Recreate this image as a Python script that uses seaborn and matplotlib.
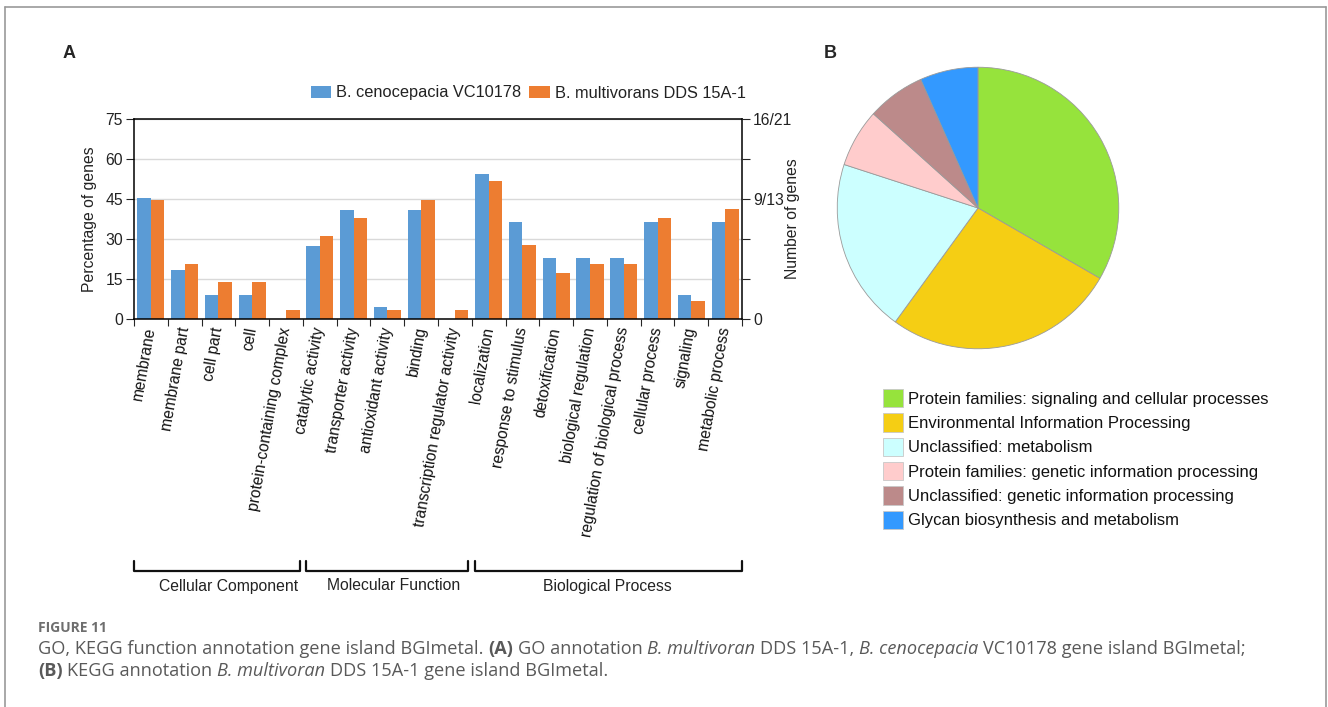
import matplotlib
matplotlib.use("Agg")
import matplotlib.pyplot as plt
import matplotlib.transforms as mtransforms
from matplotlib.patches import Patch
from matplotlib.lines import Line2D
import seaborn as sns
import pandas as pd
import numpy as np

# ---------------- data ----------------
categories = ["membrane", "membrane part", "cell part", "cell", "protein-containing complex",
              "catalytic activity", "transporter activity", "antioxidant activity", "binding",
              "transcription regulator activity", "localization", "response to stimulus",
              "detoxification", "biological regulation", "regulation of biological process",
              "cellular process", "signaling", "metabolic process"]
cenocepacia = [45.5, 18.2, 9.1, 9.1, 0.0, 27.3, 40.9, 4.5, 40.9, 0.0, 54.5, 36.4,
               22.7, 22.7, 22.7, 36.4, 9.1, 36.4]
multivorans = [44.8, 20.7, 13.8, 13.8, 3.4, 31.0, 37.9, 3.4, 44.8, 3.4, 51.7, 27.6,
               17.2, 20.7, 20.7, 37.9, 6.9, 41.4]
series_names = ["B. cenocepacia VC10178", "B. multivorans DDS 15A-1"]
bar_colors = ["#5B9BD5", "#ED7D31"]
groups = ["Cellular Component", "Molecular Function", "Biological Process"]
group_sizes = [5, 5, 8]
left_ticks = [0, 15, 30, 45, 60, 75]
left_tick_labels = ["0", "15", "30", "45", "60", "75"]
right_tick_labels = ["0", "", "", "9/13", "", "16/21"]

kegg_labels = ["Protein families: signaling and cellular processes",
               "Environmental Information Processing",
               "Unclassified: metabolism",
               "Protein families: genetic information processing",
               "Unclassified: genetic information processing",
               "Glycan biosynthesis and metabolism"]
kegg_counts = [5, 4, 3, 1, 1, 1]
kegg_colors = ["#96E33C", "#F5CE14", "#CCFFFF", "#FFCCCC", "#BC8A8A", "#3399FF"]

# ---------------- style ----------------
sns.set_theme(style="white")
plt.rcParams["font.family"] = ["Liberation Sans", "DejaVu Sans"]
plt.rcParams["axes.edgecolor"] = "#000000"

W, H = 1328, 707
fig = plt.figure(figsize=(W / 100, H / 100), dpi=100)


def fx(px):
    return px / W


def fy(py):
    return 1 - py / H


# ---------------- panel A: bars ----------------
ax = fig.add_axes([fx(134), fy(319), fx(742 - 134), (319 - 119) / H])
df = pd.DataFrame({
    "category": categories * 2,
    "series": [series_names[0]] * len(categories) + [series_names[1]] * len(categories),
    "value": cenocepacia + multivorans,
})
sns.barplot(data=df, x="category", y="value", hue="series", order=categories,
            hue_order=series_names, palette=bar_colors, saturation=1, width=0.8,
            ax=ax, legend=False, linewidth=0)
ax.set_xlim(-0.5, len(categories) - 0.5)
ax.set_ylim(0, 75)
ax.set_yticks(left_ticks)
ax.set_yticklabels(left_tick_labels)
ax.set_xlabel("")
ax.set_ylabel("Percentage of genes", fontsize=11.3, color="#222222", labelpad=6)
ax.yaxis.grid(True, color="#d9d9d9", linewidth=1.0)
ax.set_axisbelow(True)
for s in ax.spines.values():
    s.set_visible(True)
    s.set_color("#000000")
    s.set_linewidth(1.1)
ax.tick_params(axis="y", which="major", direction="out", length=6, width=0.8,
               labelsize=11.3, labelcolor="#222222", left=True, pad=2)
ax.set_xticks(range(len(categories)))
ax.set_xticklabels(categories, rotation=80, ha="right", va="center",
                   rotation_mode="anchor", fontsize=11.2, color="#111111")
ax.tick_params(axis="x", which="major", length=0, pad=6)
ax.set_xticks(np.arange(-0.5, len(categories), 1.0), minor=True)
ax.tick_params(axis="x", which="minor", direction="out", length=5, width=0.8, bottom=True)

ax2 = ax.twinx()
ax2.set_ylim(0, 75)
ax2.set_yticks(left_ticks)
ax2.set_yticklabels(right_tick_labels)
ax2.tick_params(axis="y", direction="out", length=6, width=0.8, labelsize=11.3,
                labelcolor="#222222", right=True, pad=2)
ax2.set_ylabel("Number of genes", fontsize=11.3, color="#222222", labelpad=-5)
ax2.grid(False)
for s in ax2.spines.values():
    s.set_visible(False)

# bar legend
handles = [Patch(facecolor=c, edgecolor="none") for c in bar_colors]
fig.legend(handles, series_names, loc="center", bbox_to_anchor=(fx(528), fy(93)),
           ncol=2, frameon=False, fontsize=11.8, handlelength=1.25, handleheight=0.75,
           columnspacing=0.5, handletextpad=0.3, labelcolor="#222222")

# group brackets
trans = mtransforms.blended_transform_factory(ax.transData, fig.transFigure)
bounds = np.cumsum([0] + group_sizes) - 0.5
gap = 0.1
label_shift = [0.35, 0.2, -0.05]
for i, g in enumerate(groups):
    x0 = bounds[i] + (gap if i > 0 else 0)
    x1 = bounds[i + 1] - (gap if i < len(groups) - 1 else 0)
    ytop, ybot = fy(561), fy(571)
    fig.add_artist(Line2D([x0, x0, x1, x1], [ytop, ybot, ybot, ytop], transform=trans,
                          color="#111111", lw=1.6, clip_on=False))
    fig.text((x0 + x1) / 2 + label_shift[i], fy(586), g, transform=trans, ha="center",
             va="center", fontsize=11.3, color="#222222")

# ---------------- panel B: pie ----------------
R = 145
axp = fig.add_axes([fx(978 - R), fy(208 + R), fx(2 * R), 2 * R / H])
axp.pie(kegg_counts, colors=kegg_colors, startangle=90, counterclock=False,
        wedgeprops=dict(edgecolor="#9a9a9a", linewidth=0.6))
axp.set_xlim(-1.03, 1.03)
axp.set_ylim(-1.03, 1.03)
axp.set_aspect("equal")
axp.axis("off")

kh = [Patch(facecolor=c, edgecolor="#c8c8c8", linewidth=0.6) for c in kegg_colors]
fig.legend(kh, kegg_labels, loc="upper left", bbox_to_anchor=(fx(883), fy(389)),
           frameon=False, fontsize=12, handlelength=1.2, handleheight=1.3,
           labelspacing=0.37, handletextpad=0.3, borderaxespad=0, borderpad=0,
           labelcolor="#111111")

# panel letters
fig.text(fx(69), fy(54), "A", fontsize=13, fontweight="bold", ha="center", va="center")
fig.text(fx(830), fy(54), "B", fontsize=13, fontweight="bold", ha="center", va="center")

# ---------------- frame ----------------
fc = "#9a9a9a"
fig.add_artist(Line2D([fx(5), fx(5)], [0, fy(7)], color=fc, lw=1.2))
fig.add_artist(Line2D([fx(5), fx(1326)], [fy(7), fy(7)], color=fc, lw=1.2))
fig.add_artist(Line2D([fx(1326), fx(1326)], [0, fy(7)], color=fc, lw=1.2))

# ---------------- caption ----------------
renderer = fig.canvas.get_renderer()
cap_font = ["Open Sans", "DejaVu Sans"]
cap_color = "#595959"


def space_width(props):
    t1 = fig.text(0, 0, "x x", **props)
    t2 = fig.text(0, 0, "xx", **props)
    w = t1.get_window_extent(renderer).width - t2.get_window_extent(renderer).width
    t1.remove()
    t2.remove()
    return w


def rich_line(x_px, y_px, pieces, size):
    x = x_px
    for s, style in pieces:
        props = dict(family=cap_font, fontsize=size, color=cap_color)
        props.update(style)
        sw = space_width(props)
        lead = len(s) - len(s.lstrip(" "))
        trail = len(s) - len(s.rstrip(" "))
        core = s.strip(" ")
        x += lead * sw
        t = fig.text(fx(x), fy(y_px), core, ha="left", va="baseline", **props)
        x += t.get_window_extent(renderer).width + trail * sw


B = {"fontweight": "bold"}
I = {"fontstyle": "italic"}
N = {}
fig.text(fx(38), fy(632), "FIGURE 11", family=cap_font, fontsize=10, fontweight="bold",
         color="#6e6e6e", ha="left", va="baseline")
rich_line(38, 654, [("GO, KEGG function annotation gene island BGImetal. ", N), ("(A)", B),
                    (" GO annotation ", N), ("B. multivoran", I), (" DDS 15A-1, ", N),
                    ("B. cenocepacia", I), (" VC10178 gene island BGImetal;", N)], 13.1)
rich_line(38, 676, [("(B)", B), (" KEGG annotation ", N), ("B. multivoran", I),
                    (" DDS 15A-1 gene island BGImetal.", N)], 13.1)

fig.savefig("out.png", dpi=100)
